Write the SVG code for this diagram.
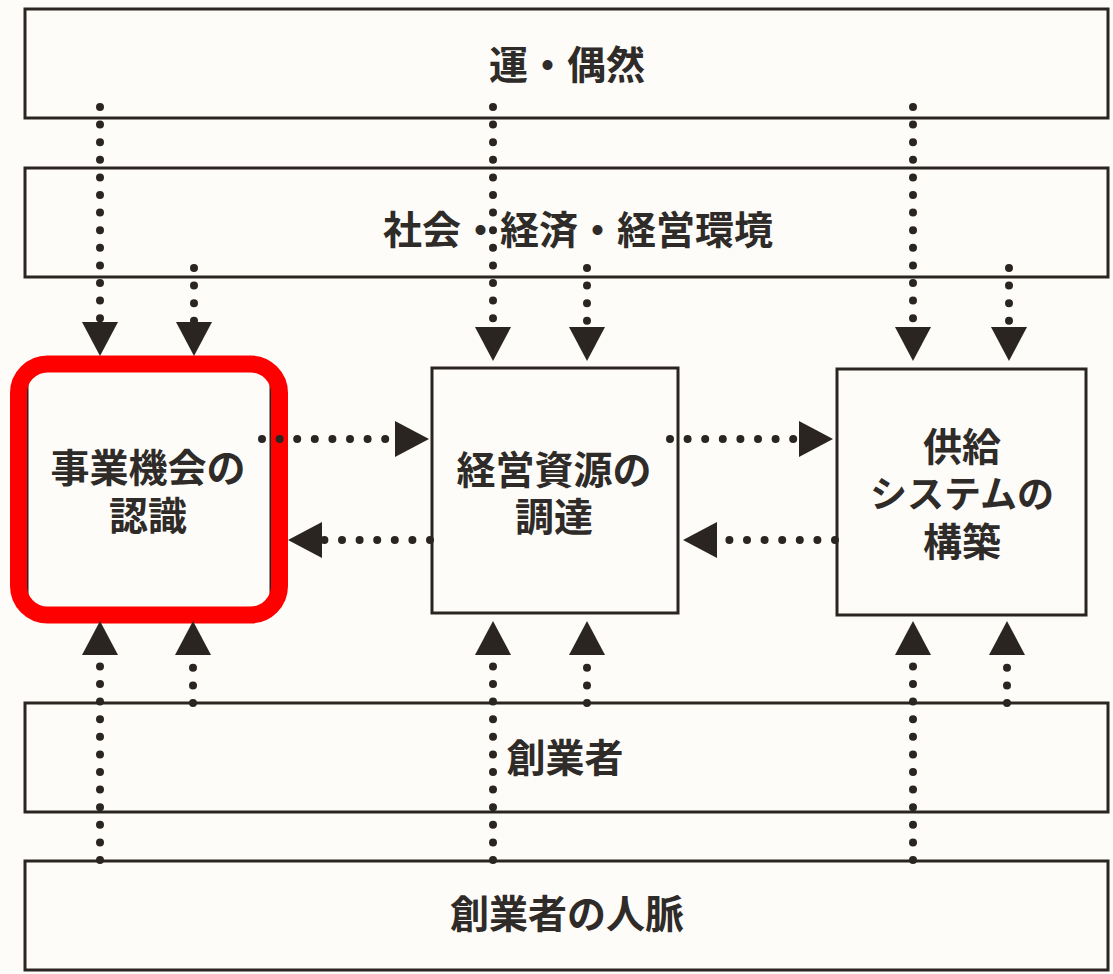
<svg xmlns="http://www.w3.org/2000/svg" width="1113" height="974" viewBox="0 0 1113 974">
<defs>
<style>
.box{fill:#fdfcf8;stroke:#2b2522;stroke-width:3}
.t{font-family:"Liberation Sans","Noto Sans CJK JP","Noto Sans CJK SC",sans-serif;font-size:39px;font-weight:700;fill:#2f2b29;text-anchor:middle;dominant-baseline:central}
.dot{fill:none;stroke:#2b2522;stroke-width:8;stroke-linecap:round;stroke-dasharray:0 17.6}
</style>
<marker id="ah" viewBox="0 0 34 36" refX="0" refY="18" markerWidth="34" markerHeight="36" markerUnits="userSpaceOnUse" orient="auto">
<path d="M0,0 L34,18 L0,36 z" fill="#2b2522"/>
</marker>
</defs>
<rect width="1113" height="974" fill="#fdfcf8"/>
<g id="luck">
<rect class="box" x="25" y="9" width="1083" height="109"/>
<text class="t" x="567" y="65">運・偶然</text>
</g>
<g id="environment">
<rect class="box" x="25" y="168" width="1083" height="109"/>
<text class="t" x="578" y="230">社会・経済・経営環境</text>
</g>
<g id="recognition">
<rect class="box" x="27" y="365" width="244" height="248"/>
<text class="t"><tspan x="148" y="468">事業機会の</tspan><tspan x="148" y="516">認識</tspan></text>
<rect x="18.5" y="364" width="261" height="251" rx="29" fill="none" stroke="#ff0000" stroke-width="17"/>
</g>
<g id="resources">
<rect class="box" x="432" y="368" width="246" height="245"/>
<text class="t"><tspan x="554" y="470">経営資源の</tspan><tspan x="554" y="517">調達</tspan></text>
</g>
<g id="supply">
<rect class="box" x="837" y="369" width="249" height="246"/>
<text class="t"><tspan x="962" y="447">供給</tspan><tspan x="962" y="495" font-size="37">システムの</tspan><tspan x="962" y="542">構築</tspan></text>
</g>
<g id="founder">
<rect class="box" x="25" y="703" width="1083" height="109"/>
<text class="t" x="565" y="758">創業者</text>
</g>
<g id="network">
<rect class="box" x="25" y="861" width="1083" height="109"/>
<text class="t" x="567" y="914">創業者の人脈</text>
</g>
<g id="connectors">
<path class="dot" d="M100,107 V322" marker-end="url(#ah)"/>
<path class="dot" d="M194,268 V322" marker-end="url(#ah)"/>
<path class="dot" d="M493,107 V327" marker-end="url(#ah)"/>
<path class="dot" d="M587,268 V327" marker-end="url(#ah)"/>
<path class="dot" d="M913,107 V327" marker-end="url(#ah)"/>
<path class="dot" d="M1009,268 V327" marker-end="url(#ah)"/>
<path class="dot" d="M100,860 V655" marker-end="url(#ah)"/>
<path class="dot" d="M193,703 V655" marker-end="url(#ah)"/>
<path class="dot" d="M493,860 V655" marker-end="url(#ah)"/>
<path class="dot" d="M587,703 V655" marker-end="url(#ah)"/>
<path class="dot" d="M913,860 V655" marker-end="url(#ah)"/>
<path class="dot" d="M1007,703 V655" marker-end="url(#ah)"/>
<path class="dot" d="M262,439 H395" marker-end="url(#ah)"/>
<path class="dot" d="M430,540 H322" marker-end="url(#ah)"/>
<path class="dot" d="M670,439 H799" marker-end="url(#ah)"/>
<path class="dot" d="M835,540 H717" marker-end="url(#ah)"/>
</g>
</svg>
